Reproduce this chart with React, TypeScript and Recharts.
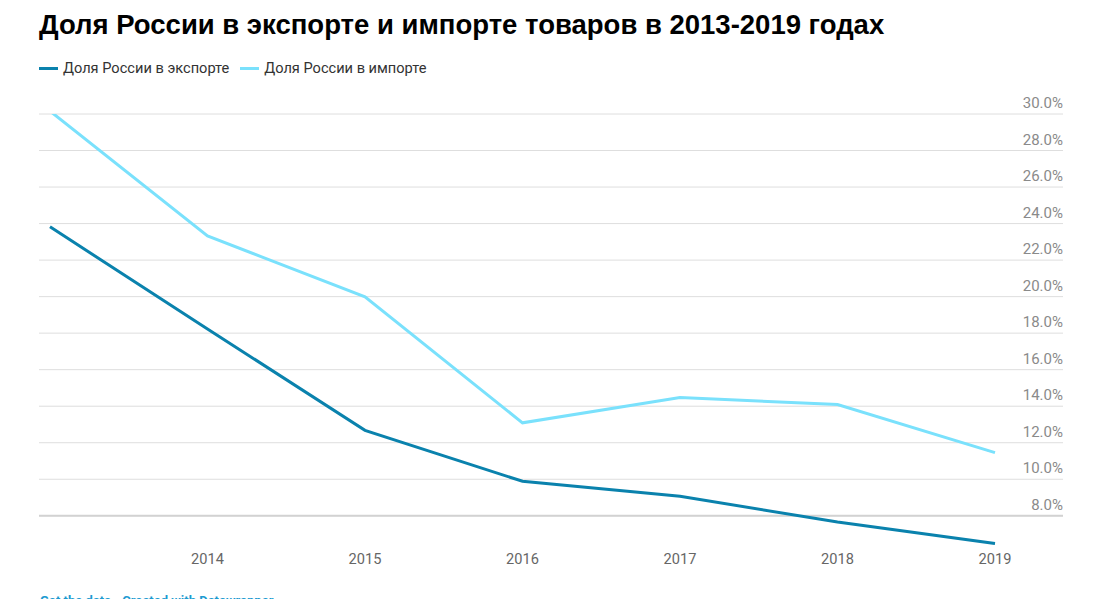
import {
  LineChart,
  Line,
  XAxis,
  YAxis,
  CartesianGrid,
  ReferenceLine,
} from 'recharts';

const years = ['2013', '2014', '2015', '2016', '2017', '2018', '2019'];
const exportShare = [23.82, 18.23, 12.68, 9.89, 9.07, 7.66, 6.48];
const importShare = [30.16, 23.32, 19.99, 13.09, 14.47, 14.09, 11.46];
const yTicks = [8, 10, 12, 14, 16, 18, 20, 22, 24, 26, 28, 30];

const EXPORT_COLOR = '#0a82ad';
const IMPORT_COLOR = '#7ae1fc';

const series = [
  { key: 'export', name: 'Доля России в экспорте', color: EXPORT_COLOR },
  { key: 'import', name: 'Доля России в импорте', color: IMPORT_COLOR },
];

const data = years.map((year, i) => ({
  year,
  export: exportShare[i],
  import: importShare[i],
}));

const YTick = (props: any) => {
  const { x, y, payload } = props;
  return (
    <text x={x} y={y - 6} textAnchor="end" fill="#8a8a8a" fontSize={15} fontFamily="Roboto">
      {payload.value.toFixed(1)}%
    </text>
  );
};

const XTick = (props: any) => {
  const { x, y, payload } = props;
  if (payload.value === '2013') return null;
  return (
    <text x={x} y={y + 11} textAnchor="middle" fill="#666" fontSize={14.6} fontFamily="Roboto">
      {payload.value}
    </text>
  );
};

export default function App() {
  return (
    <div style={{ position: 'fixed', left: 0, top: 0, width: 1107, height: 599, background: '#fff', overflow: 'hidden' }}>
      <div
        style={{
          position: 'absolute',
          left: 39,
          top: 9,
          fontFamily: '"Liberation Sans", Arial, sans-serif',
          fontWeight: 700,
          fontSize: 27.5,
          color: '#000',
          whiteSpace: 'nowrap',
        }}
      >
        Доля России в экспорте и импорте товаров в 2013-2019 годах
      </div>
      <div
        style={{
          position: 'absolute',
          left: 39,
          top: 59,
          display: 'flex',
          alignItems: 'center',
          fontFamily: 'Roboto',
          fontSize: 14.6,
          color: '#333',
          whiteSpace: 'nowrap',
        }}
      >
        {series.map((s) => (
          <div key={s.key} style={{ display: 'flex', alignItems: 'center', marginRight: 11 }}>
            <span style={{ display: 'inline-block', width: 19, height: 3, background: s.color, marginRight: 5 }} />
            <span>{s.name}</span>
          </div>
        ))}
      </div>
      <LineChart width={1107} height={599} data={data} margin={{ top: 114, right: 43, left: 39, bottom: 24 }}>
        <CartesianGrid
          horizontal
          vertical={false}
          horizontalValues={yTicks}
          stroke="#dedede"
          strokeWidth={1}
        />
        <XAxis
          dataKey="year"
          type="category"
          padding={{ left: 11, right: 68 }}
          axisLine={false}
          tickLine={false}
          interval={0}
          height={30}
          tick={<XTick />}
        />
        <YAxis
          orientation="right"
          type="number"
          domain={[6.4, 30]}
          ticks={yTicks}
          width={1}
          axisLine={false}
          tickLine={false}
          tickSize={0}
          tickMargin={0}
          interval={0}
          tick={<YTick />}
          allowDataOverflow
        />
        <ReferenceLine y={8} stroke="#d2d2d2" strokeWidth={2} />
        {series.map((s) => (
          <Line
            key={s.key}
            type="linear"
            dataKey={s.key}
            name={s.name}
            stroke={s.color}
            strokeWidth={3}
            dot={false}
            isAnimationActive={false}
          />
        ))}
      </LineChart>
      <div
        style={{
          position: 'absolute',
          left: 40,
          top: 593,
          fontFamily: 'Roboto',
          fontSize: 13,
          fontWeight: 700,
          color: '#1d9bd1',
          whiteSpace: 'nowrap',
        }}
      >
        Get the data • Created with Datawrapper
      </div>
    </div>
  );
}
